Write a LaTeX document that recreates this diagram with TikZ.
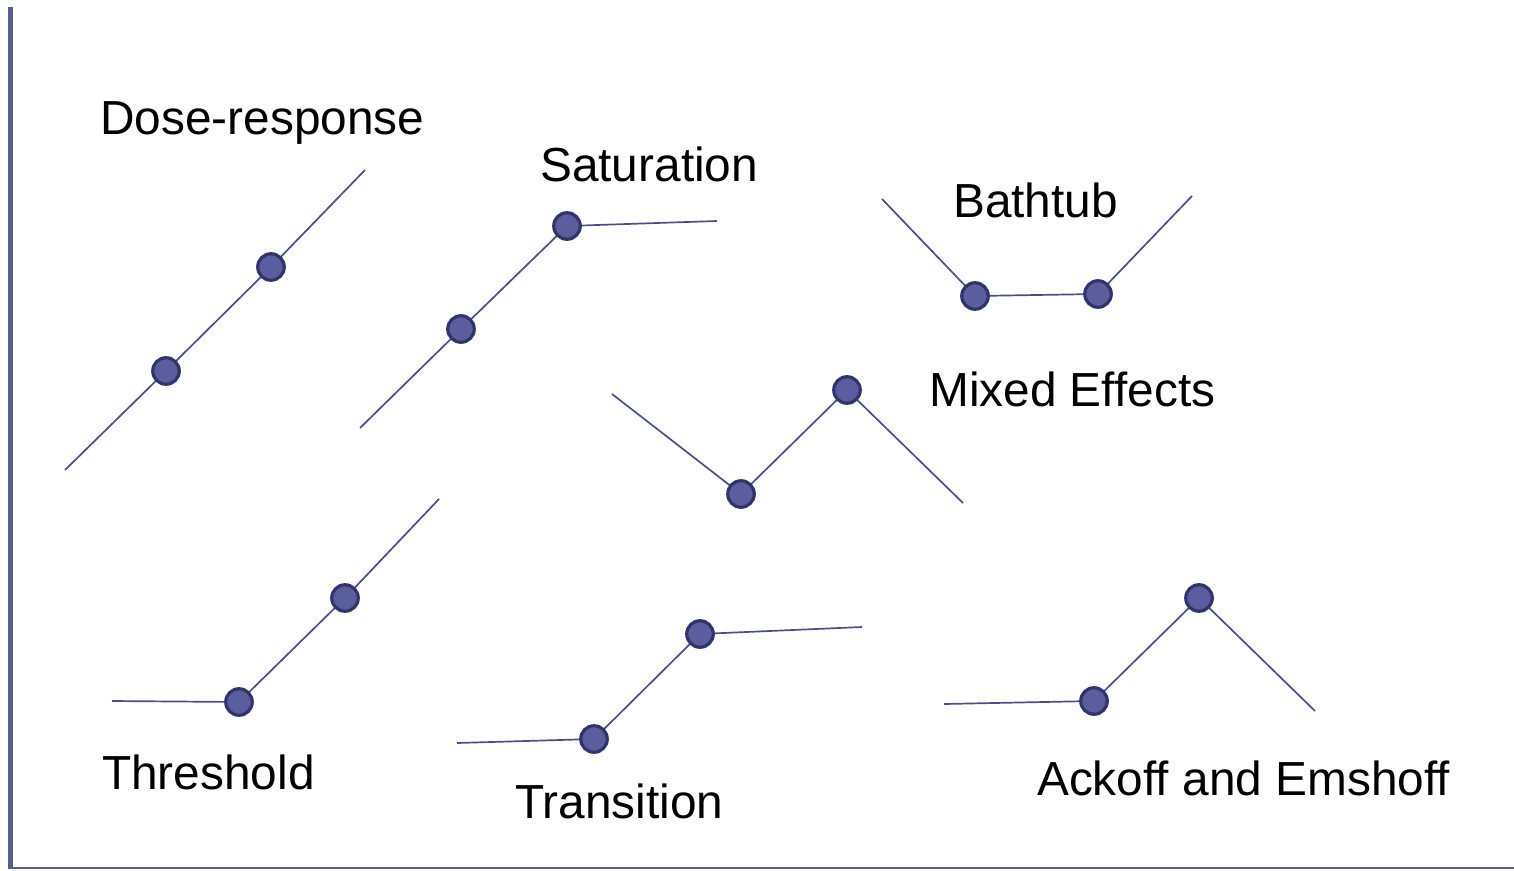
\documentclass[tikz,border=0pt]{standalone}
\usepackage{fontspec}
\setmainfont{Liberation Sans}
\usetikzlibrary{backgrounds}
\definecolor{dotfill}{HTML}{5A5E9E}
\definecolor{dotedge}{HTML}{31346A}
\definecolor{curve}{HTML}{4A4E8E}
\definecolor{axis}{HTML}{575B96}
\tikzset{
  dot/.style={circle, draw=dotedge, fill=dotfill, line width=3.2pt, minimum size=26.5pt, inner sep=0pt},
  curveline/.style={draw=curve, line width=1.7pt},
  label/.style={anchor=base west, inner sep=0pt, font=\fontsize{47.8}{57}\selectfont},
}
\begin{document}
\begin{tikzpicture}[x=1pt, y=-1pt]
\useasboundingbox (0,0) rectangle (1514,870);

% axes
\draw[axis, line width=5pt] (10.5,7) -- (10.5,868);
\draw[axis, line width=2pt] (8,868) -- (1514,868);

% labels
\node[label] (t1) at (100,134.5) {Dose-response};
\node[label] (t2) at (540,181.5) {Saturation};
\node[label] (t3) at (953,217.5) {Bathtub};
\node[label] (t4) at (929,406.5) {Mixed Effects};
\node[label] (t5) at (102,789.5) {Threshold};
\node[label] (t6) at (515,818.5) {Transition};
\node[label] (t7) at (1037,795.5) {Ackoff and Emshoff};

% dose-response
\coordinate (d0) at (65,470);
\coordinate (d3) at (365,170);
\node[dot] (d1) at (166,371) {};
\node[dot] (d2) at (271,267) {};

% saturation
\coordinate (s0) at (360,428);
\coordinate (s3) at (717,221);
\node[dot] (s1) at (461,329) {};
\node[dot] (s2) at (567,226) {};

% bathtub
\coordinate (b0) at (882,199);
\coordinate (b3) at (1192,196);
\node[dot] (b1) at (975,296) {};
\node[dot] (b2) at (1098,294) {};

% mixed effects
\coordinate (m0) at (612,394);
\coordinate (m3) at (963,503);
\node[dot] (m1) at (741,494) {};
\node[dot] (m2) at (847,390) {};

% threshold
\coordinate (h0) at (112,701);
\coordinate (h3) at (439,499);
\node[dot] (h1) at (239,702) {};
\node[dot] (h2) at (345,598) {};

% transition
\coordinate (r0) at (457,743);
\coordinate (r3) at (862,627);
\node[dot] (r1) at (594,739) {};
\node[dot] (r2) at (700,634) {};

% ackoff and emshoff
\coordinate (a0) at (944,704);
\coordinate (a3) at (1315,711);
\node[dot] (a1) at (1094,701) {};
\node[dot] (a2) at (1199,598) {};

\begin{scope}[on background layer]
  \draw[curveline] (d0) -- (d1.center) -- (d2.center) -- (d3);
  \draw[curveline] (s0) -- (s1.center) -- (s2.center) -- (s3);
  \draw[curveline] (b0) -- (b1.center) -- (b2.center) -- (b3);
  \draw[curveline] (m0) -- (m1.center) -- (m2.center) -- (m3);
  \draw[curveline] (h0) -- (h1.center) -- (h2.center) -- (h3);
  \draw[curveline] (r0) -- (r1.center) -- (r2.center) -- (r3);
  \draw[curveline] (a0) -- (a1.center) -- (a2.center) -- (a3);
\end{scope}
\end{tikzpicture}
\end{document}
